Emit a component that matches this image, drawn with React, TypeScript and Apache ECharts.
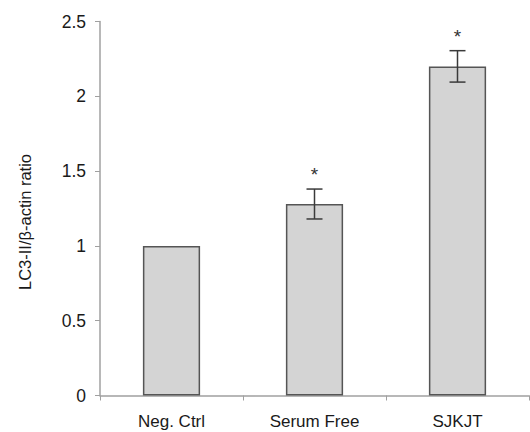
import React, { useEffect, useRef } from "react";
import * as echarts from "echarts";

const categories = ["Neg. Ctrl", "Serum Free", "SJKJT"];
const values = [1, 1.28, 2.2];
const errors = [0, 0.1, 0.105];
const marks = ["", "*", "*"];
const yTicks = [0, 0.5, 1, 1.5, 2, 2.5];
const yName = "LC3-II/β-actin ratio";

export default function App() {
  const ref = useRef<HTMLDivElement>(null);
  useEffect(() => {
    if (!ref.current) return;
    const chart = echarts.init(ref.current, undefined, { renderer: "svg" });
    const font = "'Liberation Sans', Arial, sans-serif";
    chart.setOption({
      animation: false,
      backgroundColor: "#ffffff",
      grid: { left: 100, right: 1, top: 21.5, bottom: 36.5, containLabel: false },
      graphic: [
        {
          type: "text",
          x: 25,
          y: 222,
          rotation: Math.PI / 2,
          style: {
            text: yName,
            textAlign: "center",
            textVerticalAlign: "middle",
            fill: "#1a1a1a",
            font: `16.5px ${font}`,
          },
        },
      ],
      xAxis: {
        type: "category",
        data: categories,
        boundaryGap: true,
        axisLine: { lineStyle: { color: "#a0a0a0", width: 1.5 } },
        axisTick: { show: true, alignWithLabel: false, length: 5, lineStyle: { color: "#a0a0a0" } },
        axisLabel: { color: "#1a1a1a", fontSize: 17, fontFamily: font, margin: 17 },
      },
      yAxis: {
        type: "value",
        min: 0,
        max: 2.5,
        interval: 0.5,
        axisLine: { show: true, lineStyle: { color: "#a0a0a0", width: 1.5 } },
        axisTick: { show: true, length: 5, lineStyle: { color: "#a0a0a0" } },
        splitLine: { show: false },
        axisLabel: {
          color: "#1a1a1a",
          fontSize: 17.5,
          fontFamily: font,
          margin: 14,
          formatter: (v: number) => (yTicks.includes(v) ? String(v) : ""),
        },
      },
      series: [
        {
          type: "bar",
          data: values,
          barWidth: "40%",
          itemStyle: { color: "#d4d4d4", borderColor: "#555555", borderWidth: 1.5 },
        },
        {
          type: "custom",
          data: values.map((v, i) => [i, v, errors[i]]),
          z: 10,
          renderItem: (params: any, api: any) => {
            const i = api.value(0);
            const v = api.value(1);
            const e = api.value(2);
            const idx = params.dataIndex;
            const children: any[] = [];
            const top = api.coord([i, v + e]);
            const bot = api.coord([i, v - e]);
            const cap = 8;
            const style = { stroke: "#3a3a3a", lineWidth: 1.5 };
            if (e > 0) {
              children.push({ type: "line", shape: { x1: top[0], y1: top[1], x2: bot[0], y2: bot[1] }, style });
              children.push({ type: "line", shape: { x1: top[0] - cap, y1: top[1], x2: top[0] + cap, y2: top[1] }, style });
              children.push({ type: "line", shape: { x1: bot[0] - cap, y1: bot[1], x2: bot[0] + cap, y2: bot[1] }, style });
            }
            if (marks[idx]) {
              children.push({
                type: "text",
                style: {
                  text: marks[idx],
                  x: top[0],
                  y: top[1] - 5,
                  textAlign: "center",
                  textVerticalAlign: "bottom",
                  fill: "#333333",
                  font: `19px ${font}`,
                },
              });
            }
            return { type: "group", children };
          },
        },
      ],
    });
    return () => chart.dispose();
  }, []);
  return (
    <div
      ref={ref}
      style={{ position: "fixed", left: 0, top: 0, width: 530, height: 432 }}
    />
  );
}
